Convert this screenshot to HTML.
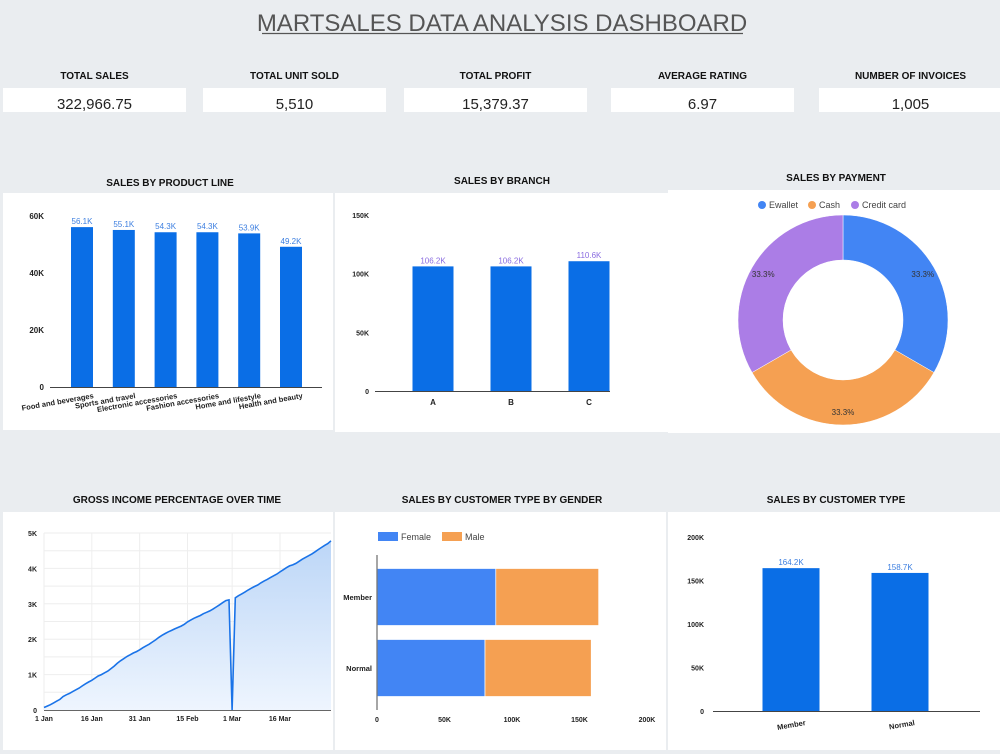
<!DOCTYPE html>
<html><head><meta charset="utf-8">
<style>
body{margin:0;width:1000px;height:754px;background:#eaedf0;font-family:"Liberation Sans",sans-serif;overflow:hidden}
svg{display:block}
text{font-family:"Liberation Sans",sans-serif}
</style></head>
<body>
<svg id="s" width="1000" height="754">
<rect x="0" y="0" width="1000" height="754" fill="#eaedf0"/>
<text x="502" y="31" text-anchor="middle" font-size="24" fill="#555" font-weight="300">MARTSALES DATA ANALYSIS DASHBOARD</text>
<line x1="262" y1="33.5" x2="743" y2="33.5" stroke="#555" stroke-width="1.3"/>
<g id="kpis"></g>
<rect x="3" y="193" width="330" height="237" fill="#fff"/>
<rect x="335" y="193" width="333" height="239" fill="#fff"/>
<rect x="668" y="190" width="332" height="243" fill="#fff"/>
<rect x="3" y="512" width="330" height="238" fill="#fff"/>
<rect x="335" y="512" width="331" height="238" fill="#fff"/>
<rect x="668" y="512" width="332" height="238" fill="#fff"/>
<g font-weight="bold" font-size="10" fill="#111" text-anchor="middle">
<text x="170" y="186">SALES BY PRODUCT LINE</text>
<text x="502" y="184">SALES BY BRANCH</text>
<text x="836" y="181">SALES BY PAYMENT</text>
<text x="177" y="503">GROSS INCOME PERCENTAGE OVER TIME</text>
<text x="502" y="503">SALES BY CUSTOMER TYPE BY GENDER</text>
<text x="836" y="503">SALES BY CUSTOMER TYPE</text>
</g>
<defs><clipPath id="gclip"><rect x="343" y="512" width="330" height="240"/></clipPath>
<clipPath id="lclip"><rect x="3" y="512" width="328.5" height="240"/></clipPath></defs>
<g id="g"></g>
</svg>
<script>
const NS="http://www.w3.org/2000/svg";
const G=document.getElementById('g');
function mk(tag,a,parent,txt){const e=document.createElementNS(NS,tag);for(const k in a)e.setAttribute(k,a[k]);if(txt!==undefined)e.textContent=txt;(parent||G).appendChild(e);return e;}

// KPIs
const kpiLabels=["TOTAL SALES","TOTAL UNIT SOLD","TOTAL PROFIT","AVERAGE RATING","NUMBER OF INVOICES"];
const kpiValues=["322,966.75","5,510","15,379.37","6.97","1,005"];
const kpiX=[3,203,404,611,819];
const K=document.getElementById('kpis');
kpiLabels.forEach((l,i)=>{
  const w=183;const cx=kpiX[i]+w/2;
  let t=mk('text',{x:cx,y:79,'text-anchor':'middle','font-size':10,'font-weight':'bold',fill:'#111'},K,l);
  
  
  let r=mk('rect',{x:kpiX[i],y:88,width:w,height:24,fill:'#fff'},K);
  
  
  let v=mk('text',{x:cx,y:109,'text-anchor':'middle','font-size':15,fill:'#222'},K,kpiValues[i]);
  
  
});

// Product line
const plCats=["Food and beverages","Sports and travel","Electronic accessories","Fashion accessories","Home and lifestyle","Health and beauty"];
const plVals=[56.1,55.1,54.3,54.3,53.9,49.2];
const plTicks=[0,20,40,60];
(function(){
  const y=v=>387-v*(171/60);const x=i=>82+i*41.8;
  plTicks.forEach(t=>{let e=mk('text',{x:44,y:y(t)+3,'text-anchor':'end','font-size':8,'font-weight':'bold',fill:'#222'},G,t?t+'K':'0');});
  plVals.forEach((v,i)=>{
    let b=mk('rect',{x:x(i)-11,y:y(v),width:22,height:387-y(v),fill:'#0a6ee6'});
    
    
    let l=mk('text',{x:x(i),y:y(v)-3,'text-anchor':'middle','font-size':8,fill:'#3d7fe0'},G,v.toFixed(1)+'K');
    
    
    let c=mk('text',{x:x(i)+12,y:398,'text-anchor':'end','font-size':7.5,'font-weight':'bold',fill:'#222',transform:`rotate(-10 ${x(i)+12} 398)`},G,plCats[i]);
    
    
  });
  mk('line',{x1:50,y1:387.5,x2:322,y2:387.5,stroke:'#444'});
})();

// Branch
const brCats=["A","B","C"];
const brVals=[106.2,106.2,110.6];
const brTicks=[0,50,100,150];
(function(){
  const y=v=>391-v*(176/150);const x=i=>433+i*78;
  brTicks.forEach(t=>{let e=mk('text',{x:369,y:y(t)+3,'text-anchor':'end','font-size':7,'font-weight':'bold',fill:'#222'},G,t?t+'K':'0');});
  brVals.forEach((v,i)=>{
    let b=mk('rect',{x:x(i)-20.5,y:y(v),width:41,height:391-y(v),fill:'#0a6ee6'});
    
    
    let l=mk('text',{x:x(i),y:y(v)-3,'text-anchor':'middle','font-size':8,fill:'#8a6ce0'},G,v.toFixed(1)+'K');
    
    
    let c=mk('text',{x:x(i),y:405,'text-anchor':'middle','font-size':8,'font-weight':'bold',fill:'#222'},G,brCats[i]);
    
    
  });
  mk('line',{x1:375,y1:391.5,x2:610,y2:391.5,stroke:'#444'});
})();

// Payment donut
const payCats=["Ewallet","Cash","Credit card"];
const payVals=[33.3,33.3,33.3];
const payColors=["#4285f4","#f5a052","#ab7de6"];
(function(){
  const cx=843,cy=320,R=105,r=60;const tot=payVals.reduce((a,b)=>a+b,0);let a0=-Math.PI/2;
  const lx=[762,812,855];
  payVals.forEach((v,i)=>{
    const a1=a0+v/tot*2*Math.PI;
    const p=(a,rr)=>[cx+rr*Math.cos(a),cy+rr*Math.sin(a)];
    const [x0,y0]=p(a0,R),[x1,y1]=p(a1,R),[x2,y2]=p(a1,r),[x3,y3]=p(a0,r);
    const lg=a1-a0>Math.PI?1:0;
    let s=mk('path',{d:`M${x0},${y0}A${R},${R} 0 ${lg} 1 ${x1},${y1}L${x2},${y2}A${r},${r} 0 ${lg} 0 ${x3},${y3}Z`,fill:payColors[i],stroke:'#fff','stroke-width':0.5});
    
    
    const am=(a0+a1)/2;const [tx,ty]=p(am,R*0.82+ r*0.1);
    let t=mk('text',{x:tx,y:ty+3,'text-anchor':'middle','font-size':8,fill:'#333'},G,(v/tot*100).toFixed(1)+'%');
    
    
    let d=mk('circle',{cx:lx[i],cy:205,r:4,fill:payColors[i]});
    
    
    let lt=mk('text',{x:lx[i]+7,y:208,'font-size':9,fill:'#444'},G,payCats[i]);
    
    
    a0=a1;
  });
})();

// Gross income over time (day index from 1 Jan)
const giVals=[70,110,150,200,250,300,380,430,470,520,570,620,680,740,790,840,900,960,1000,1050,1100,1170,1240,1320,1390,1450,1510,1560,1610,1650,1700,1760,1810,1860,1920,1980,2050,2110,2160,2210,2250,2290,2330,2370,2420,2490,2540,2590,2630,2670,2720,2760,2800,2850,2910,2970,3030,3090,3110,0,3170,3230,3280,3330,3390,3440,3490,3530,3590,3640,3690,3740,3790,3840,3900,3960,4020,4070,4100,4140,4200,4260,4310,4360,4410,4470,4530,4590,4650,4700,4780];
const giTickLabels=["1 Jan","16 Jan","31 Jan","15 Feb","1 Mar","16 Mar"];
const giTickDays=[0,15,30,45,59,74];
const giYTicks=[0,1,2,3,4,5];
(function(){
  const x=d=>44+d*(287/90);const y=v=>710-v*(177/5000);
  for(let k=0;k<=10;k++){mk('line',{x1:44,x2:331,y1:y(k*500),y2:y(k*500),stroke:'#eee'});}
  giTickDays.forEach(d=>mk('line',{x1:x(d),x2:x(d),y1:533,y2:710,stroke:'#eee'}));
  giYTicks.forEach(t=>{let e=mk('text',{x:37,y:y(t*1000)+3,'text-anchor':'end','font-size':7,'font-weight':'bold',fill:'#222'},G,t?t+'K':'0');});
  giTickLabels.forEach((l,i)=>{let e=mk('text',{x:x(giTickDays[i]),y:721,'text-anchor':'middle','font-size':7,'font-weight':'bold',fill:'#222'},G,l);});
  const defs=mk('defs',{});const lg=mk('linearGradient',{id:'gf',x1:0,y1:0,x2:0,y2:1},defs);
  mk('stop',{offset:0,'stop-color':'#bcd6f7'},lg);mk('stop',{offset:1,'stop-color':'#eef5fe'},lg);
  const cg=mk('g',{'clip-path':'url(#lclip)'});
  const pts=giVals.map((v,i)=>x(i).toFixed(1)+','+y(v).toFixed(1)).join(' ');
  let a=mk('polygon',{points:x(0)+',710 '+pts+' '+x(giVals.length-1)+',710',fill:'url(#gf)'},cg);
  
  
  mk('line',{x1:44,y1:710.5,x2:331,y2:710.5,stroke:'#666'});
  let l=mk('polyline',{points:pts,fill:'none',stroke:'#1a73e8','stroke-width':1.6},cg);
  
  
})();

// Customer type by gender
const cgCats=["Member","Normal"];
const cgFemale=[88,80];
const cgMale=[76.2,78.7];
const cgTicks=[0,50,100,150,200];
(function(){
  const x=v=>377+v*(270/200);const yc=i=>597+i*71;
  [["Female","#4285f4",378],["Male","#f5a052",442]].forEach(([n,c,lx])=>{
    let r=mk('rect',{x:lx,y:532,width:20,height:9,fill:c});
    
    
    let t=mk('text',{x:lx+23,y:540,'font-size':9,fill:'#444'},G,n);
    
    
  });
  const clipG=mk('g',{'clip-path':'url(#gclip)'});
  cgCats.forEach((c,i)=>{
    let f=mk('rect',{x:x(0),y:yc(i)-28.5,width:x(cgFemale[i])-x(0),height:57,fill:'#4285f4',stroke:'#fff','stroke-width':0.7});
    
    
    let m=mk('rect',{x:x(cgFemale[i]),y:yc(i)-28.5,width:x(cgFemale[i]+cgMale[i])-x(cgFemale[i]),height:57,fill:'#f5a052',stroke:'#fff','stroke-width':0.7});
    
    
    let t=mk('text',{x:372,y:yc(i)+3,'text-anchor':'end','font-size':7.5,'font-weight':'bold',fill:'#222'},clipG,c);
    
    
  });
  cgTicks.forEach(t=>{let e=mk('text',{x:x(t),y:722,'text-anchor':'middle','font-size':7,'font-weight':'bold',fill:'#222'},G,t?t+'K':'0');});
  mk('line',{x1:377,y1:555,x2:377,y2:710,stroke:'#777','stroke-width':1.3});
})();

// Customer type
const ctCats=["Member","Normal"];
const ctVals=[164.2,158.7];
const ctTicks=[0,50,100,150,200];
(function(){
  const y=v=>711-v*(174/200);const x=i=>791+i*109;
  ctTicks.forEach(t=>{let e=mk('text',{x:704,y:y(t)+3,'text-anchor':'end','font-size':7,'font-weight':'bold',fill:'#222'},G,t?t+'K':'0');});
  ctVals.forEach((v,i)=>{
    let b=mk('rect',{x:x(i)-28.5,y:y(v),width:57,height:711-y(v),fill:'#0a6ee6'});
    
    
    let l=mk('text',{x:x(i),y:y(v)-3,'text-anchor':'middle','font-size':8,fill:'#3d7fe0'},G,v.toFixed(1)+'K');
    
    
    let c=mk('text',{x:x(i)+15,y:725,'text-anchor':'end','font-size':7.5,'font-weight':'bold',fill:'#222',transform:`rotate(-10 ${x(i)+15} 725)`},G,ctCats[i]);
    
    
  });
  mk('line',{x1:713,y1:711.5,x2:980,y2:711.5,stroke:'#444'});
})();
</script>
</body></html>
